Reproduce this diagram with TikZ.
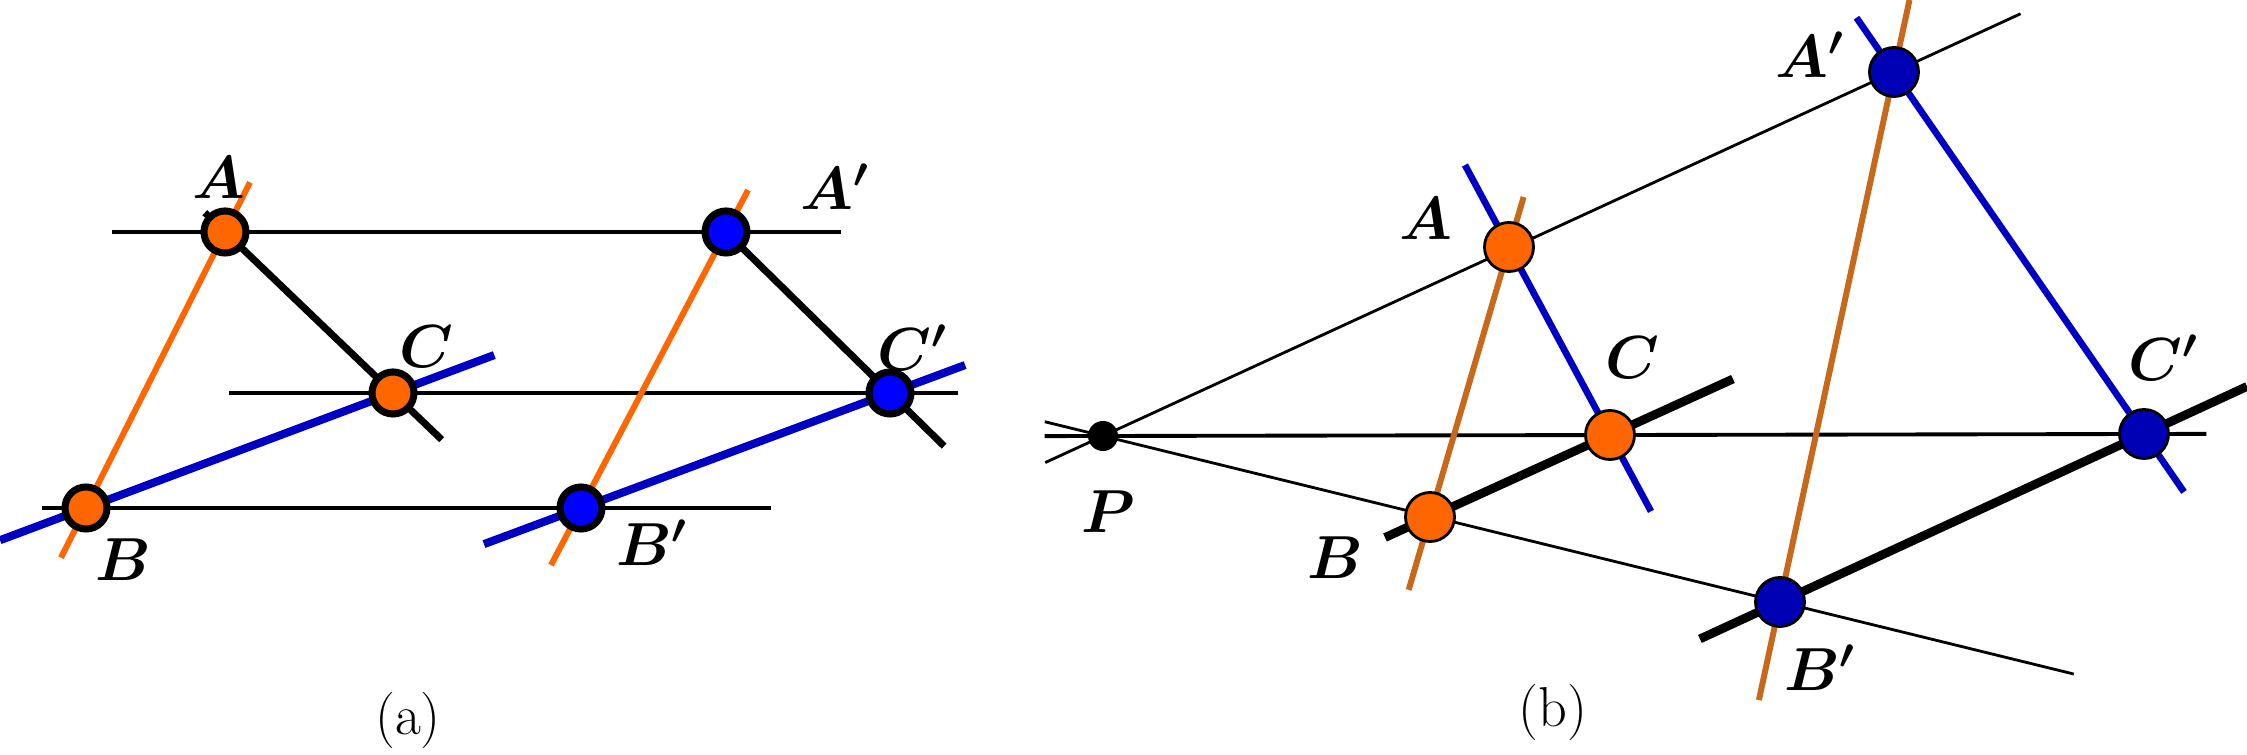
\documentclass[tikz,border=0pt]{standalone}
\usetikzlibrary{calc}

\definecolor{dotorange}{HTML}{FF6600}
\definecolor{dotblue}{HTML}{0000FF}
\definecolor{dotnavy}{HTML}{0000B4}
\definecolor{lineblue}{HTML}{0000C4}
\definecolor{linerust}{HTML}{C8681A}

\tikzset{
  ptlabel/.style={font=\fontsize{17}{20}\selectfont\boldmath},
  caption/.style={font=\fontsize{16}{19}\selectfont},
  dotA/.style={circle, draw=black, line width=2pt, minimum size=0.42cm, inner sep=0pt},
  dotB/.style={circle, draw=black, line width=0.8pt, minimum size=0.49cm, inner sep=0pt},
}

\begin{document}
\begin{tikzpicture}[x=0.01cm,y=-0.01cm]
\useasboundingbox (0,0) rectangle (2247,755);

% ---------- (a) ----------
\coordinate (A) at (225,232);
\coordinate (B) at (86,508);
\coordinate (C) at (393,393);
\coordinate (Ap) at (726,232);
\coordinate (Bp) at (581,508);
\coordinate (Cp) at (890,393);

% Parallels
\draw[line width=1.1pt] ($(A)!-0.226!(Ap)$) -- ($(Ap)!-0.23!(A)$);
\draw[line width=1.1pt] ($(C)!-0.33!(Cp)$) -- ($(Cp)!-0.137!(C)$);
\draw[line width=1.1pt] ($(B)!-0.089!(Bp)$) -- ($(Bp)!-0.384!(B)$);

% Sides
\draw[dotorange, line width=1.7pt] ($(A)!-0.18!(B)$) -- ($(B)!-0.18!(A)$);
\draw[dotorange, line width=1.7pt] ($(Ap)!-0.152!(Bp)$) -- ($(Bp)!-0.207!(Ap)$);
\draw[lineblue, line width=2.3pt] ($(B)!-0.28!(C)$) -- ($(C)!-0.33!(B)$);
\draw[lineblue, line width=2.3pt] ($(Bp)!-0.314!(Cp)$) -- ($(Cp)!-0.243!(Bp)$);
\draw[line width=2pt] ($(A)!-0.12!(C)$) -- ($(C)!-0.29!(A)$);
\draw[line width=2pt] ($(Ap)!-0.1!(Cp)$) -- ($(Cp)!-0.33!(Ap)$);

% Points
\node[dotA, fill=dotorange] (dA) at (A) {};
\node[dotA, fill=dotorange] (dB) at (B) {};
\node[dotA, fill=dotorange] (dC) at (C) {};
\node[dotA, fill=dotblue] (dAp) at (Ap) {};
\node[dotA, fill=dotblue] (dBp) at (Bp) {};
\node[dotA, fill=dotblue] (dCp) at (Cp) {};

% Labels
\node[ptlabel] (lA) at (219,178) {$A$};
\node[ptlabel] (lB) at (123,560) {$B$};
\node[ptlabel] (lC) at (426,347) {$C$};
\node[ptlabel] (lAp) at (835,187) {$A'$};
\node[ptlabel] (lBp) at (652,543) {$B'$};
\node[ptlabel] (lCp) at (913,348) {$C'$};
\node[caption] (capa) at (408,720) {(a)};

% ---------- (b) ----------
\coordinate (P) at (1103,436);
\coordinate (A2) at (1509,247);
\coordinate (B2) at (1430,517);
\coordinate (C2) at (1610,435);
\coordinate (A2p) at (1894,72);
\coordinate (B2p) at (1780,602);
\coordinate (C2p) at (2144,434);

% Rays from P
\draw[line width=0.8pt] ($(P)!-0.073!(A2p)$) -- ($(A2p)!-0.16!(P)$);
\draw[line width=0.8pt] ($(P)!-0.086!(B2p)$) -- ($(B2p)!-0.434!(P)$);
\draw[line width=1.1pt] ($(P)!-0.056!(C2p)$) -- ($(C2p)!-0.06!(P)$);

% Sides
\draw[linerust, line width=1.7pt] ($(A2)!-0.185!(B2)$) -- ($(B2)!-0.27!(A2)$);
\draw[linerust, line width=1.7pt] ($(A2p)!-0.136!(B2p)$) -- ($(B2p)!-0.185!(A2p)$);
\draw[lineblue, line width=1.9pt] ($(A2)!-0.436!(C2)$) -- ($(C2)!-0.406!(A2)$);
\draw[lineblue, line width=1.9pt] ($(A2p)!-0.15!(C2p)$) -- ($(C2p)!-0.16!(A2p)$);
\draw[line width=2.5pt] ($(B2)!-0.25!(C2)$) -- ($(C2)!-0.683!(B2)$);
\draw[line width=2.5pt] ($(B2p)!-0.22!(C2p)$) -- ($(C2p)!-0.283!(B2p)$);

% Points
\node[circle, fill=black, minimum size=0.3cm, inner sep=0pt] (dP) at (P) {};
\node[dotB, fill=dotorange] (dA2) at (A2) {};
\node[dotB, fill=dotorange] (dB2) at (B2) {};
\node[dotB, fill=dotorange] (dC2) at (C2) {};
\node[dotB, fill=dotnavy] (dA2p) at (A2p) {};
\node[dotB, fill=dotnavy] (dB2p) at (B2p) {};
\node[dotB, fill=dotnavy] (dC2p) at (C2p) {};

% Labels
\node[ptlabel] (lP) at (1108,512) {$P$};
\node[ptlabel] (lA2) at (1426,219) {$A$};
\node[ptlabel] (lB2) at (1335,558) {$B$};
\node[ptlabel] (lC2) at (1632,358) {$C$};
\node[ptlabel] (lA2p) at (1810,55) {$A'$};
\node[ptlabel] (lB2p) at (1820,668) {$B'$};
\node[ptlabel] (lC2p) at (2164,358) {$C'$};
\node[caption] (capb) at (1553,712) {(b)};

\end{tikzpicture}
\end{document}
